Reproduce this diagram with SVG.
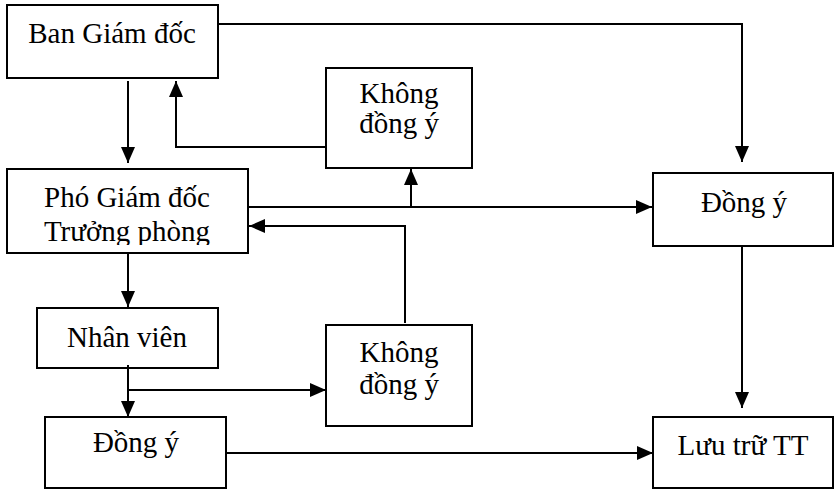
<svg xmlns="http://www.w3.org/2000/svg" width="834" height="490" viewBox="0 0 834 490">
<style>
.box{fill:#fff;stroke:#000;stroke-width:2}
.t{font-family:"Liberation Serif","Times New Roman",serif;font-size:29px;fill:#000;text-anchor:middle}
.c{fill:none;stroke:#000;stroke-width:2}
</style>
<defs>
<marker id="ah" markerWidth="17" markerHeight="14" refX="16" refY="7" orient="auto" markerUnits="userSpaceOnUse">
<path d="M0,0 L16,7 L0,14 Z" fill="#000"/>
</marker>
<clipPath id="clipPho"><rect x="0" y="0" width="834" height="245"/></clipPath>
</defs>
<rect width="834" height="490" fill="#fff"/>
<g id="ban">
<rect class="box" x="7" y="5" width="211" height="73"/>
<text class="t" x="112" y="43">Ban Giám đốc</text>
</g>
<g id="pho">
<rect class="box" x="7" y="169" width="241" height="84"/>
<g clip-path="url(#clipPho)">
<text class="t" x="127" y="207">Phó Giám đốc</text>
<text class="t" x="127" y="241">Trưởng phòng</text>
</g>
</g>
<g id="khong1">
<rect class="box" x="326" y="68" width="146" height="100"/>
<text class="t" x="399" y="103">Không</text>
<text class="t" x="399" y="133">đồng ý</text>
</g>
<g id="dongy1">
<rect class="box" x="653" y="173" width="180" height="73"/>
<text class="t" x="744" y="212">Đồng ý</text>
</g>
<g id="nhanvien">
<rect class="box" x="37" y="308" width="181" height="60"/>
<text class="t" x="127" y="347">Nhân viên</text>
</g>
<g id="khong2">
<rect class="box" x="326" y="325" width="146" height="101"/>
<text class="t" x="399" y="362">Không</text>
<text class="t" x="399" y="394">đồng ý</text>
</g>
<g id="dongy2">
<rect class="box" x="45" y="417" width="181" height="71"/>
<text class="t" x="136" y="452">Đồng ý</text>
</g>
<g id="luutru">
<rect class="box" x="653" y="417" width="180" height="71"/>
<text class="t" x="743" y="455">Lưu trữ TT</text>
</g>
<g id="connectors">
<path class="c" d="M218,24 H742 V162" marker-end="url(#ah)"/>
<path class="c" d="M128,81 V163" marker-end="url(#ah)"/>
<path class="c" d="M326,147 H176 V81" marker-end="url(#ah)"/>
<path class="c" d="M248,207 H652" marker-end="url(#ah)"/>
<path class="c" d="M411,207 V169" marker-end="url(#ah)"/>
<path class="c" d="M405,323 V226 H249" marker-end="url(#ah)"/>
<path class="c" d="M128,253 V307" marker-end="url(#ah)"/>
<path class="c" d="M128,365 V417" marker-end="url(#ah)"/>
<path class="c" d="M128,390 H326" marker-end="url(#ah)"/>
<path class="c" d="M226,453 H653" marker-end="url(#ah)"/>
<path class="c" d="M742,246 V408" marker-end="url(#ah)"/>
</g>
</svg>
